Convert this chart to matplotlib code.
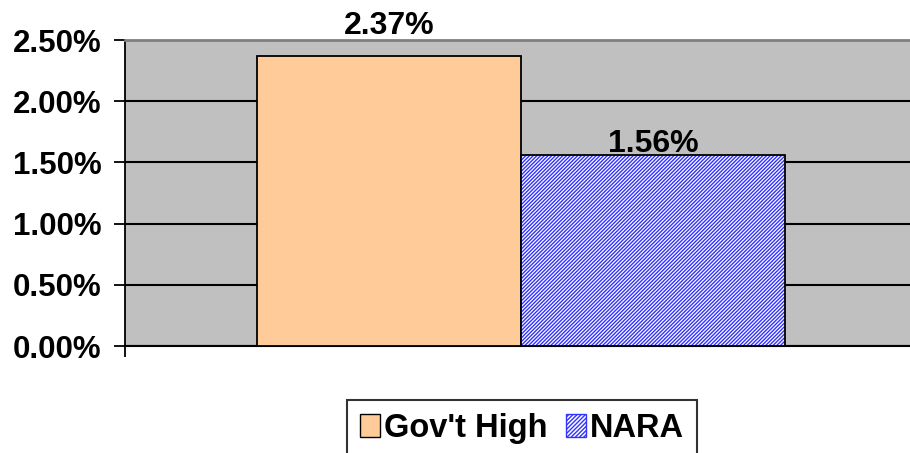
import matplotlib.pyplot as plt
from matplotlib.ticker import FuncFormatter
from matplotlib.patches import Rectangle

series = ["Gov't High", "NARA"]
values = [2.37, 1.56]
y_ticks = [0.0, 0.5, 1.0, 1.5, 2.0, 2.5]

plt.rcParams['font.family'] = ['Liberation Sans', 'DejaVu Sans']
plt.rcParams['font.weight'] = 'bold'
plt.rcParams['hatch.linewidth'] = 1.0

fig = plt.figure(figsize=(9.10, 4.53), dpi=100)
ax = fig.add_axes([125 / 910, 1 - 346 / 453, 785 / 910, 306 / 453])
ax.set_facecolor('#c0c0c0')

width = 0.336
xs = [0.5045 - width, 0.5045]
label_offsets = [16, 2]  # points above bar top (baseline)

# orange bar
ax.bar(xs[0], values[0], width=width, align='edge', color='#ffcc99',
       edgecolor='black', linewidth=1.3, zorder=3)
# hatched bar: hatch drawn in blue, outline drawn separately in black
ax.bar(xs[1], values[1], width=width, align='edge', color='white',
       edgecolor='#3333ff', hatch='/////////', linewidth=0, zorder=3)
ax.bar(xs[1], values[1], width=width, align='edge', fill=False,
       edgecolor='black', linewidth=1.3, zorder=4)

for x, v, off in zip(xs, values, label_offsets):
    ax.annotate('%.2f%%' % v, (x + width / 2, v), xytext=(0, off),
                textcoords='offset points', ha='center', va='baseline',
                fontsize=23, fontweight='bold', annotation_clip=False)

ax.set_xlim(0, 1)
ax.set_ylim(0, 2.5)
ax.set_yticks(y_ticks)
ax.yaxis.set_major_formatter(FuncFormatter(lambda v, p: '%.2f%%' % v))
ax.yaxis.grid(True, color='black', linewidth=1.5, zorder=1)
ax.set_axisbelow(True)
ax.tick_params(axis='y', labelsize=22.5, length=8, width=1.3, direction='out', pad=9)
ax.set_xticks([0])
ax.set_xticklabels([])
ax.tick_params(axis='x', length=8, width=1.3, direction='out')

ax.spines['left'].set_color('black')
ax.spines['left'].set_linewidth(1.3)
ax.spines['bottom'].set_color('black')
ax.spines['bottom'].set_linewidth(1.5)
ax.spines['top'].set_color('#808080')
ax.spines['top'].set_linewidth(2)
ax.spines['right'].set_visible(False)

handles = [Rectangle((0, 0), 1, 1, facecolor='#ffcc99', edgecolor='black', linewidth=1),
           Rectangle((0, 0), 1, 1, facecolor='white', edgecolor='#3333ff', hatch='////////')]
leg = fig.legend(handles, series, loc='upper left', bbox_to_anchor=(347 / 910, 1 - 400 / 453),
                 ncol=2, frameon=True, fancybox=False, fontsize=23.5, handlelength=0.62,
                 handleheight=0.7, handletextpad=0.12, columnspacing=0.55,
                 borderpad=0.4, borderaxespad=0)
leg.get_frame().set_edgecolor('black')
leg.get_frame().set_linewidth(1.5)

fig.savefig('out.png', dpi=100)
